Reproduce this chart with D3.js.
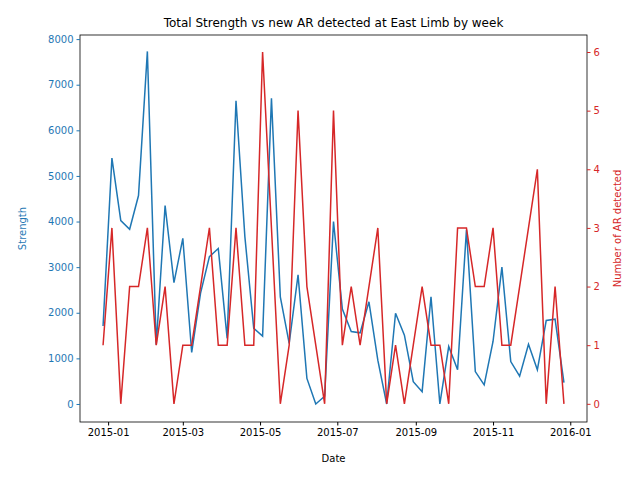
<!DOCTYPE html>
<html><head><meta charset="utf-8">
<script src="https://cdn.jsdelivr.net/npm/d3@7"></script>
<style>body{margin:0}text{font-family:"DejaVu Sans",sans-serif}</style>
</head><body><div id="chart"></div>
<script>
var startDate = "2014-12-28";
var strength = [1710,5390,4020,3830,4570,7730,1300,4350,2660,3630,1130,2430,3230,3410,1440,6650,3670,1660,1490,6700,2350,1330,2830,560,0,170,
  4000,2080,1590,1560,2240,960,0,1990,1510,490,270,2350,0,1260,750,3820,710,420,1370,3000,930,610,1310,750,1830,1860,470];
var arCount = [1,3,0,2,2,3,1,2,0,1,1,2,3,1,1,3,1,1,6,3,0,1,5,2,1,0,
  5,1,2,1,2,3,0,1,0,1,2,1,1,0,3,3,2,2,3,1,1,2,3,4,0,2,0];
var xTicks = ["2015-01-01","2015-03-01","2015-05-01","2015-07-01","2015-09-01","2015-11-01","2016-01-01"];

var parse = d3.timeParse("%Y-%m-%d");
var t0 = parse(startDate);
var dates = strength.map(function(d, i){ return d3.timeDay.offset(t0, 7 * i); });

var svgWidth = 640, svgHeight = 480;
var margin = {top:35, right:53, bottom:58, left:80};
var width = svgWidth - margin.left - margin.right;
var height = svgHeight - margin.top - margin.bottom;

var svg = d3.select("#chart").append("svg")
    .attr("width", svgWidth).attr("height", svgHeight);
var chart = svg.append("g")
    .attr("transform", "translate(" + margin.left + "," + margin.top + ")");

var x = d3.scaleTime().domain([d3.timeHour.offset(t0, -437), d3.timeHour.offset(dates[dates.length-1], 437)]).range([0, width]);
var yL = d3.scaleLinear().domain([-395, 8090]).range([height, 0]);
var yR = d3.scaleLinear().domain([-0.31, 6.29]).range([height, 0]);

var blue = "#1f77b4", red = "#d62728";

chart.append("path").datum(strength)
    .attr("fill", "none").attr("stroke", blue).attr("stroke-width", 1.5)
    .attr("d", d3.line().x(function(d, i){ return x(dates[i]); }).y(function(d){ return yL(d); }));
chart.append("path").datum(arCount)
    .attr("fill", "none").attr("stroke", red).attr("stroke-width", 1.5)
    .attr("d", d3.line().x(function(d, i){ return x(dates[i]); }).y(function(d){ return yR(d); }));

chart.append("rect").attr("width", width).attr("height", height)
    .attr("fill", "none").attr("stroke", "black").attr("stroke-width", 0.8);

var xAxis = chart.append("g").attr("transform", "translate(0," + height + ")")
    .call(d3.axisBottom(x).tickValues(xTicks.map(parse)).tickFormat(d3.timeFormat("%Y-%m")).tickSizeOuter(0).tickSize(3.5));
var lAxis = chart.append("g")
    .call(d3.axisLeft(yL).tickValues(d3.range(0, 8001, 1000)).tickFormat(d3.format("d")).tickSizeOuter(0).tickSize(3.5));
var rAxis = chart.append("g").attr("transform", "translate(" + width + ",0)")
    .call(d3.axisRight(yR).tickValues(d3.range(0, 7)).tickFormat(d3.format("d")).tickSizeOuter(0).tickSize(3.5));

[xAxis, lAxis, rAxis].forEach(function(a){
  a.select(".domain").remove();
  a.selectAll("text").attr("font-size", 10).attr("font-family", "DejaVu Sans");
});
xAxis.selectAll("text").attr("fill", "black");
lAxis.selectAll("text").attr("fill", blue);
lAxis.selectAll("line").attr("stroke", blue);
rAxis.selectAll("text").attr("fill", red);
rAxis.selectAll("line").attr("stroke", red);

svg.append("text").attr("x", margin.left + width / 2).attr("y", 27)
    .attr("text-anchor", "middle").attr("font-size", 12).text("Total Strength vs new AR detected at East Limb by week");
svg.append("text").attr("x", margin.left + width / 2).attr("y", 462)
    .attr("text-anchor", "middle").attr("font-size", 10).text("Date");
svg.append("text").attr("transform", "translate(26," + (margin.top + height / 2) + ") rotate(-90)")
    .attr("text-anchor", "middle").attr("font-size", 10).attr("fill", blue).text("Strength");
svg.append("text").attr("transform", "translate(621," + (margin.top + height / 2) + ") rotate(-90)")
    .attr("text-anchor", "middle").attr("font-size", 10).attr("fill", red).text("Number of AR detected");
</script></body></html>
